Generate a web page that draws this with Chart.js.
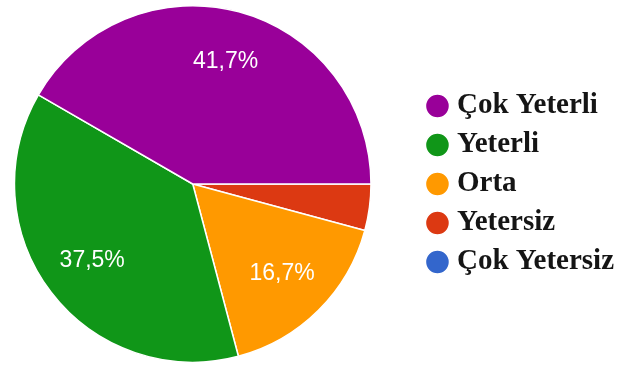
<!DOCTYPE html>
<html><head><meta charset="utf-8">
<script src="https://cdn.jsdelivr.net/npm/chart.js@4"></script>
<style>html,body{margin:0;padding:0;background:#fff;overflow:hidden}#wrap{width:661px;height:370px;position:absolute;left:-37px;top:0}</style>
</head><body><div id="wrap"><canvas id="c"></canvas></div>
<script>
// Data (legend order)
const categories = ['Çok Yeterli', 'Yeterli', 'Orta', 'Yetersiz', 'Çok Yetersiz'];
const percentages = [41.7, 37.5, 16.7, 4.2, 0];
const percentLabels = ['41,7%', '37,5%', '16,7%', '', ''];
const sliceColors = ['#990099', '#109618', '#ff9900', '#dc3912', '#3366cc'];

// Slices run counter-clockwise from 3 o'clock in the reference; Chart.js draws clockwise,
// so feed the data reversed and reverse the legend back.
const rev = a => a.slice().reverse();
const chartLabels = rev(categories);
const chartValues = rev(percentages);
const chartTexts = rev(percentLabels);
const chartColors = rev(sliceColors);

const sliceLabelPlugin = {
  id: 'sliceLabels',
  afterDatasetsDraw(chart) {
    const ctx = chart.ctx;
    const meta = chart.getDatasetMeta(0);
    ctx.save();
    ctx.fillStyle = '#ffffff';
    ctx.font = '23px "Liberation Sans", Arial, sans-serif';
    ctx.textAlign = 'center';
    ctx.textBaseline = 'middle';
    meta.data.forEach((el, i) => {
      const t = chartTexts[i];
      if (!t) return;
      const p = el.getProps(['x', 'y', 'startAngle', 'endAngle', 'outerRadius'], true);
      const mid = (p.startAngle + p.endAngle) / 2;
      const r = p.outerRadius * 0.71;
      ctx.fillText(t, p.x + Math.cos(mid) * r, p.y + Math.sin(mid) * r);
    });
    ctx.restore();
  }
};

new Chart(document.getElementById('c'), {
  type: 'pie',
  data: {
    labels: chartLabels,
    datasets: [{
      data: chartValues,
      backgroundColor: chartColors,
      borderColor: '#ffffff',
      borderWidth: 1.5,
      hoverOffset: 0
    }]
  },
  options: {
    responsive: true,
    maintainAspectRatio: false,
    animation: false,
    rotation: 90,
    layout: { padding: { left: 0, right: 0, top: 5, bottom: 7 } },
    plugins: {
      tooltip: { enabled: false },
      legend: {
        position: 'right',
        reverse: true,
        labels: {
          usePointStyle: true,
          pointStyle: 'circle',
          boxWidth: 10,
          boxHeight: 17,
          padding: 10,
          color: '#151515',
          font: { family: '"Liberation Serif", "Times New Roman", serif', size: 29, weight: 'bold' }
        }
      }
    }
  },
  plugins: [sliceLabelPlugin]
});
</script>
</body></html>
